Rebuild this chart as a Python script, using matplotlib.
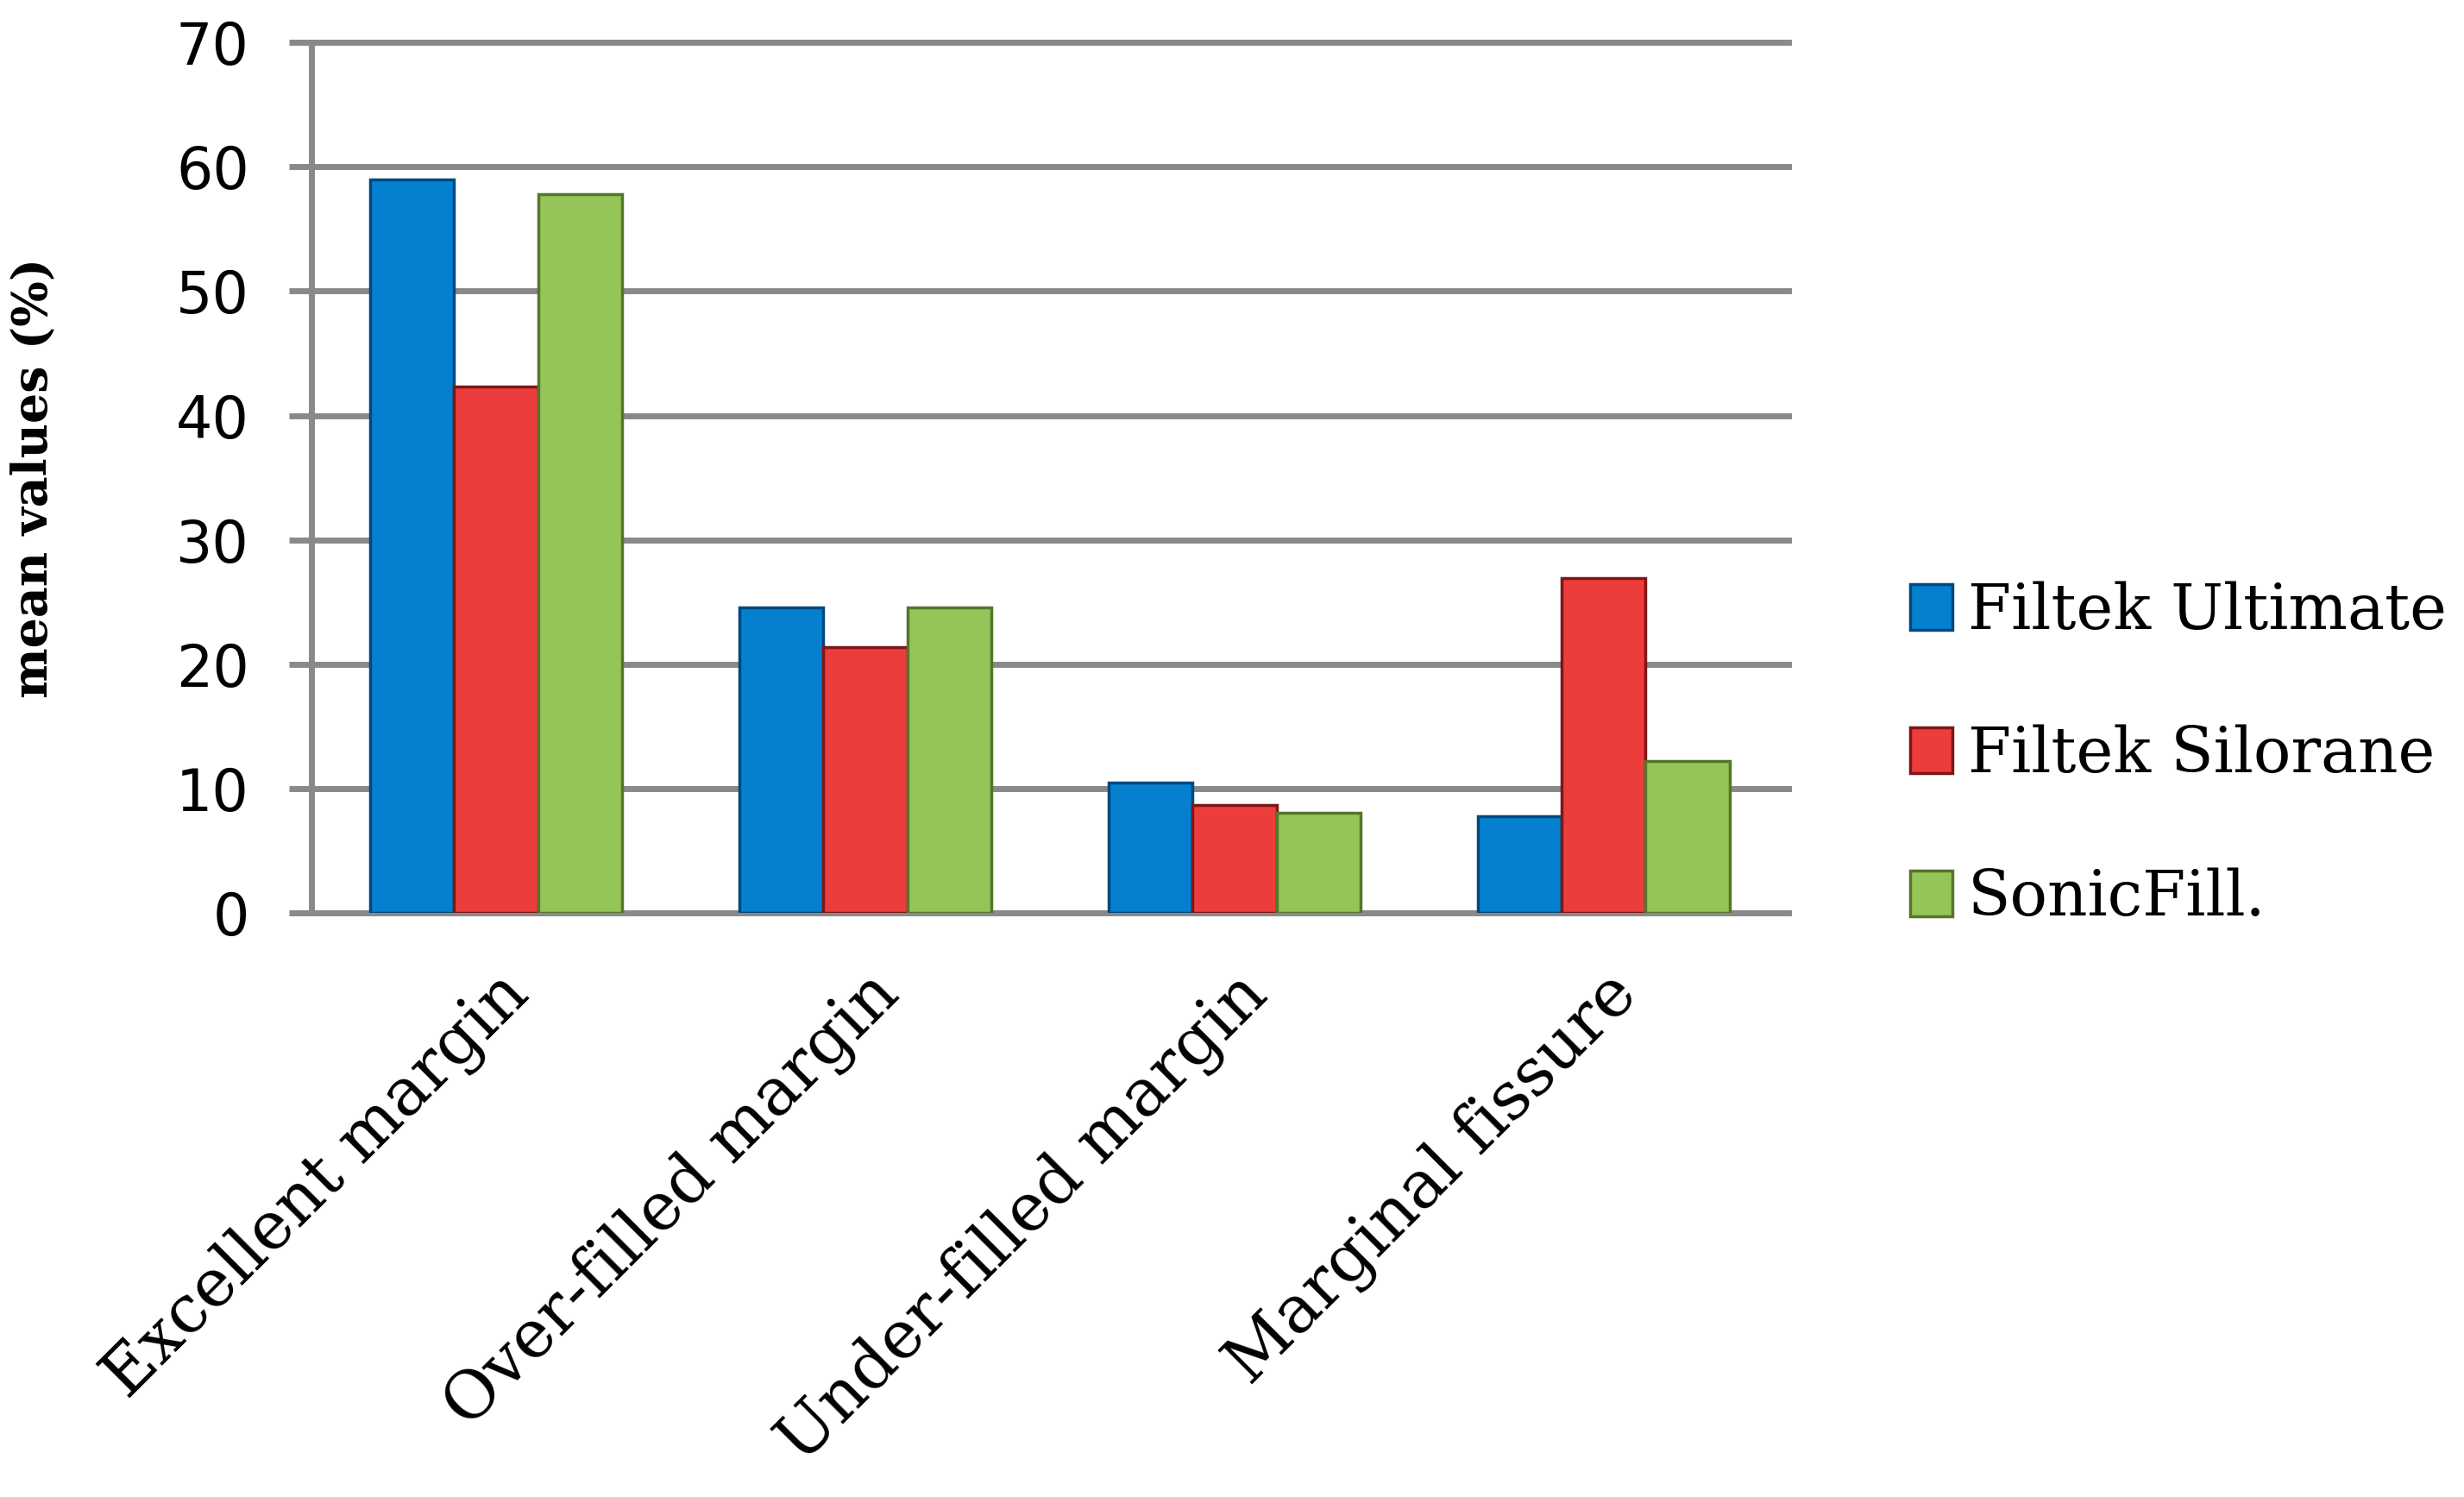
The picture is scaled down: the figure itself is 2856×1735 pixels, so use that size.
import matplotlib.pyplot as plt
import numpy as np

categories = ['Excellent margin', 'Over-filled margin', 'Under-filled margin', 'Marginal fissure']
series_names = ['Filtek Ultimate', 'Filtek Silorane', 'SonicFill.']
filtek_ultimate = [59.0, 24.6, 10.5, 7.8]
filtek_silorane = [42.3, 21.4, 8.7, 26.9]
sonicfill = [57.8, 24.6, 8.1, 12.2]

fills = ['#0580cf', '#ec3c3c', '#95c558']
edges = ['#00497f', '#7e1616', '#56752a']

fig = plt.figure(figsize=(28.56, 17.35), dpi=100)
ax = fig.add_axes([0.1264, 0.390, 0.5994, 0.5818])

x = np.arange(len(categories))
width = 0.227
handles = []
for i, vals in enumerate([filtek_ultimate, filtek_silorane, sonicfill]):
    b = ax.bar(x + (i - 1) * width, vals, width, color=fills[i],
               edgecolor=edges[i], linewidth=2.5, zorder=3, label=series_names[i])
    handles.append(b)

ax.set_xlim(-0.5, 3.5)
ax.set_ylim(0, 70)
ax.set_yticks(range(0, 71, 10))
ax.grid(axis='y', color='#898989', linewidth=5, zorder=0)
for gl in ax.get_ygridlines():
    gl.set_clip_on(False)
ax.set_axisbelow(True)

for s in ['top', 'right', 'bottom']:
    ax.spines[s].set_visible(False)
ax.spines['left'].set_color('#898989')
ax.spines['left'].set_linewidth(5)

ax.tick_params(axis='y', length=19, width=5, color='#898989', pad=33,
               labelsize=48, labelcolor='black')
for lab in ax.get_yticklabels():
    lab.set_family('DejaVu Sans')

ax.set_xticks(x)
ax.set_xticklabels(categories, rotation=45, ha='right', va='top',
                   rotation_mode='anchor', family='DejaVu Serif', fontsize=55)
ax.tick_params(axis='x', length=0, pad=40)

ax.set_ylabel('mean values (%)', family='DejaVu Serif', fontweight='bold',
              fontsize=40)
ax.yaxis.set_label_coords(-0.172, 0.5)

leg = fig.legend(handles=handles, labels=series_names, loc='center left',
                 bbox_to_anchor=(0.765, 0.496), frameon=False,
                 prop={'family': 'DejaVu Serif', 'size': 52},
                 handlelength=0.68, handleheight=0.76, handletextpad=0.25,
                 labelspacing=1.32, borderaxespad=0)

plt.savefig('out.png', dpi=100)
